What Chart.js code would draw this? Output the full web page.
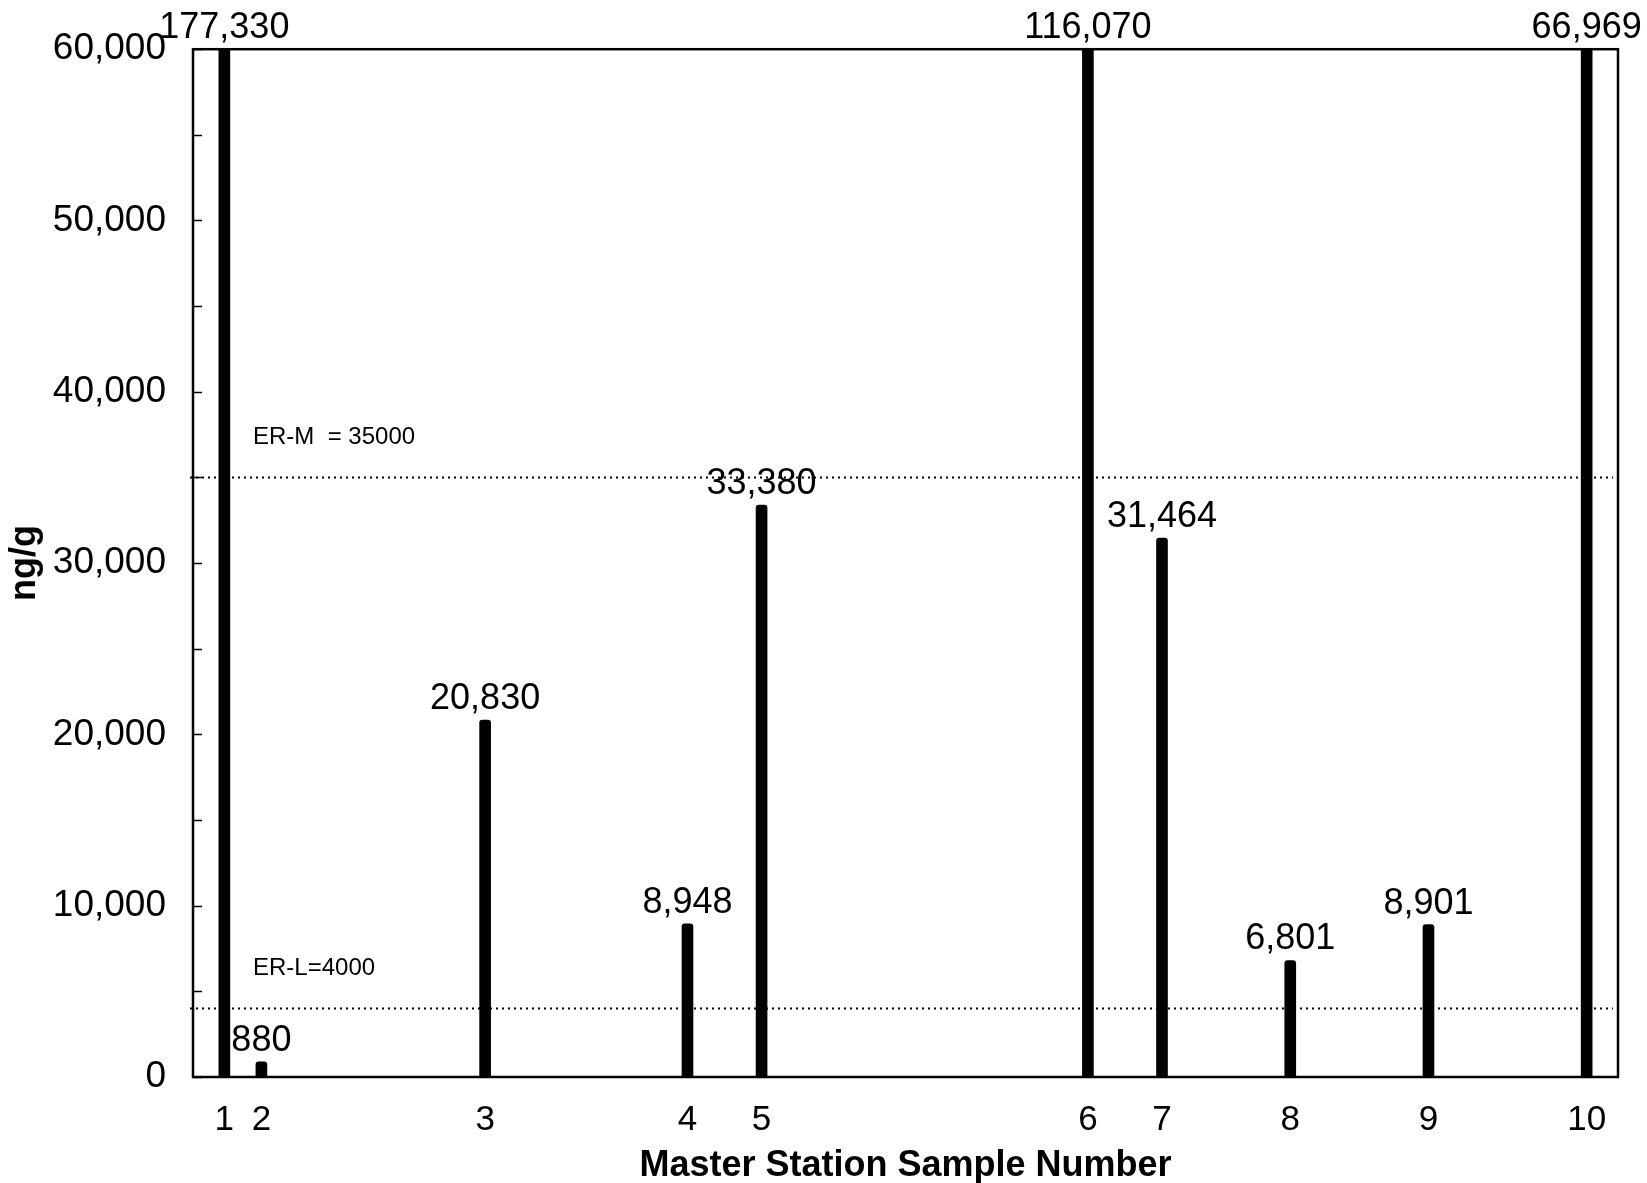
<!DOCTYPE html>
<html lang="en">
<head>
<meta charset="utf-8">
<title>Master Station Sample Number - ng/g</title>
<script src="https://cdn.jsdelivr.net/npm/chart.js@4.4.7/dist/chart.umd.min.js"></script>
<style>
*{margin:0;padding:0;box-sizing:border-box}
body{background:#fff;width:1647px;height:1183px;overflow:hidden}
#wrap{position:relative;width:1647px;height:1183px}
</style>
</head>
<body>
<div id="wrap"><canvas id="chart"></canvas></div>
<script>
// station labels and where each one sits along the x axis
const stationLabels = ['1', '2', '3', '4', '5', '6', '7', '8', '9', '10'];
const stationPos = [2.2, 4.8, 20.5, 34.7, 39.9, 62.8, 68.0, 77.0, 86.7, 97.8];
// concentration per station, ng/g
const concentrations = [177330, 880, 20830, 8948, 33380, 116070, 31464, 6801, 8901, 66969];
// guideline lines
const guideLines = [
  { value: 35000, label: 'ER-M  = 35000' },
  { value: 4000, label: 'ER-L=4000' }
];
const yTicks = [0, 10000, 20000, 30000, 40000, 50000, 60000];
const yMinorStep = 5000;

const FONT = "'Liberation Sans', Arial, Helvetica, sans-serif";
const fmt = v => Number(v).toLocaleString('en-US');

// frame, dotted guideline lines and inward minor ticks
const framePlugin = {
  id: 'frame',
  beforeDatasetsDraw(chart) {
    const { ctx, chartArea: a, scales: { y } } = chart;
    ctx.save();
    // guidelines
    ctx.strokeStyle = '#000';
    ctx.lineWidth = 2;
    ctx.setLineDash([2, 4]);
    guideLines.forEach(g => {
      const py = y.getPixelForValue(g.value);
      ctx.beginPath();
      ctx.moveTo(a.left - 3, py);
      ctx.lineTo(a.right - 5, py);
      ctx.stroke();
    });
    ctx.setLineDash([]);
    ctx.fillStyle = '#000';
    ctx.font = '24px ' + FONT;
    ctx.textAlign = 'left';
    ctx.textBaseline = 'middle';
    guideLines.forEach(g => {
      const py = y.getPixelForValue(g.value);
      ctx.fillText(g.label, a.left + 60, py - 40);
    });
    // minor ticks pointing into the plot
    ctx.lineWidth = 1.5;
    for (let v = 0; v <= y.max; v += yMinorStep) {
      const py = Math.round(y.getPixelForValue(v)) + 0.5;
      ctx.beginPath();
      ctx.moveTo(a.left, py);
      ctx.lineTo(a.left + 9, py);
      ctx.stroke();
    }
    ctx.restore();
  },
  afterDatasetsDraw(chart) {
    const { ctx, chartArea: a } = chart;
    ctx.save();
    ctx.strokeStyle = '#000';
    ctx.lineWidth = 2.5;
    ctx.strokeRect(a.left, a.top, a.right - a.left, a.bottom - a.top);
    // value labels above the bars (clipped bars get their label above the frame)
    ctx.fillStyle = '#000';
    ctx.font = '36px ' + FONT;
    ctx.textAlign = 'center';
    ctx.textBaseline = 'alphabetic';
    const meta = chart.getDatasetMeta(0);
    meta.data.forEach((el, i) => {
      const top = Math.max(el.y, a.top);
      ctx.fillText(fmt(concentrations[i]), el.x, top - 11);
    });
    ctx.restore();
  }
};

new Chart(document.getElementById('chart'), {
  type: 'bar',
  data: {
    datasets: [{
      data: stationPos.map((x, i) => ({ x, y: concentrations[i] })),
      backgroundColor: '#000',
      borderWidth: 0,
      barThickness: 11,
      borderRadius: { topLeft: 3, topRight: 3 },
      borderSkipped: 'start'
    }]
  },
  options: {
    responsive: true,
    maintainAspectRatio: false,
    animation: false,
    layout: { padding: { top: 48, right: 29, bottom: 0, left: 0 } },
    plugins: { legend: { display: false }, tooltip: { enabled: false } },
    scales: {
      x: {
        type: 'linear',
        offset: false,
        min: 0,
        max: 100,
        grid: { display: false, drawTicks: false, offset: false },
        border: { display: false },
        afterBuildTicks(scale) { scale.ticks = stationPos.map(v => ({ value: v })); },
        afterFit(scale) { scale.height = 106; },
        ticks: {
          autoSkip: false,
          maxRotation: 0,
          padding: 22,
          color: '#000',
          font: { family: FONT, size: 35 },
          callback: v => stationLabels[stationPos.indexOf(v)]
        },
        title: {
          display: true,
          text: 'Master Station Sample Number',
          color: '#000',
          font: { family: FONT, size: 36, weight: 'bold' },
          padding: { top: 0, bottom: -5 }
        }
      },
      y: {
        min: 0,
        max: 60000,
        grid: { display: false, drawTicks: false },
        border: { display: false },
        afterBuildTicks(scale) { scale.ticks = yTicks.map(v => ({ value: v })); },
        afterFit(scale) { scale.width = 193; },
        ticks: {
          padding: 27,
          color: '#000',
          font: { family: FONT, size: 37 },
          callback: v => fmt(v)
        },
        title: {
          display: true,
          text: 'ng/g',
          color: '#000',
          font: { family: FONT, size: 36, weight: 'bold' },
          padding: { top: 3, bottom: 0 }
        }
      }
    }
  },
  plugins: [framePlugin]
});
</script>
</body>
</html>
